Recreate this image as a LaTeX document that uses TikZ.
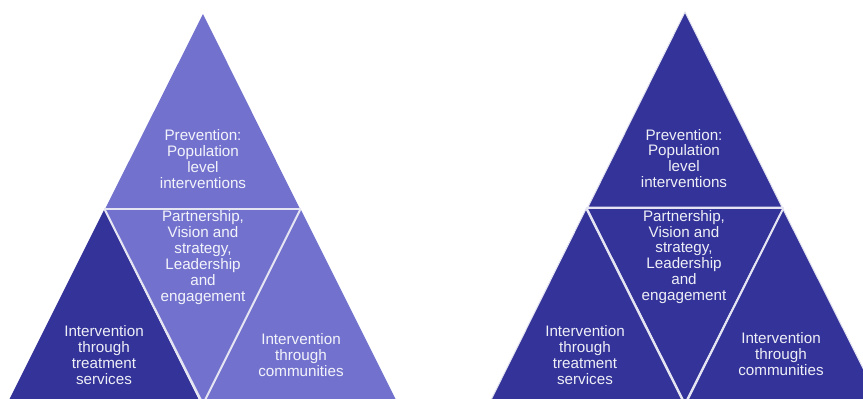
\documentclass[tikz,border=0pt]{standalone}
\usepackage{fontspec}
\setmainfont{Liberation Sans}
\definecolor{lightblue}{HTML}{7272CE}
\definecolor{darkblue}{HTML}{333399}
\definecolor{edge}{HTML}{E4E4F2}
\tikzset{
  lighttri/.style={fill=lightblue},
  darktri/.style={fill=darkblue},
  rimtri/.style={fill=darkblue,draw=edge,line width=1pt},
  sep/.style={draw=edge,line width=2pt},
  lab/.style={text=white,align=center,font=\fontsize{15.2}{15.9}\selectfont,inner sep=0pt,opacity=0.92}
}
\begin{document}
\begin{tikzpicture}[x=1pt,y=-1pt]
\useasboundingbox (0,0) rectangle (863,399);
\clip (0,0) rectangle (863,399);
\fill[white] (0,0) rectangle (863,399);
% left pyramid
\fill[lighttri] (203,14) -- (300,209) -- (105,209) -- cycle;
\fill[darktri] (104,210) -- (200,402) -- (8,402) -- cycle;
\fill[lighttri] (105,209) -- (301,209) -- (203,404) -- cycle;
\fill[lighttri] (301,210) -- (397,402) -- (205,402) -- cycle;
\draw[sep] (104,209) -- (301,209);
\draw[sep] (105,210) -- (203,404);
\draw[sep] (300,210) -- (203,404);
\node[lab] (a1) at (203,159) {Prevention:\\Population\\level\\interventions};
\node[lab] (a2) at (203,257.5) {Partnership,\\Vision and\\strategy,\\Leadership\\and\\engagement};
\node[lab] (a3) at (104,355) {Intervention\\through\\treatment\\services};
\node[lab] (a4) at (301,355) {Intervention\\through\\communities};
% right pyramid
\filldraw[rimtri] (685,12) -- (782,207) -- (588,207) -- cycle;
\filldraw[rimtri] (586,209) -- (684,404) -- (489,404) -- cycle;
\filldraw[rimtri] (783,209) -- (881,404) -- (686,404) -- cycle;
\fill[darktri] (588,209) -- (782,209) -- (685,402) -- cycle;
\draw[sep] (586,208) -- (784,208);
\draw[sep] (587,209) -- (685,404);
\draw[sep] (783,209) -- (685,404);
\node[lab] (b1) at (684,158.5) {Prevention:\\Population\\level\\interventions};
\node[lab] (b2) at (684,257) {Partnership,\\Vision and\\strategy,\\Leadership\\and\\engagement};
\node[lab] (b3) at (585,355) {Intervention\\through\\treatment\\services};
\node[lab] (b4) at (781,354) {Intervention\\through\\communities};
\end{tikzpicture}
\end{document}
